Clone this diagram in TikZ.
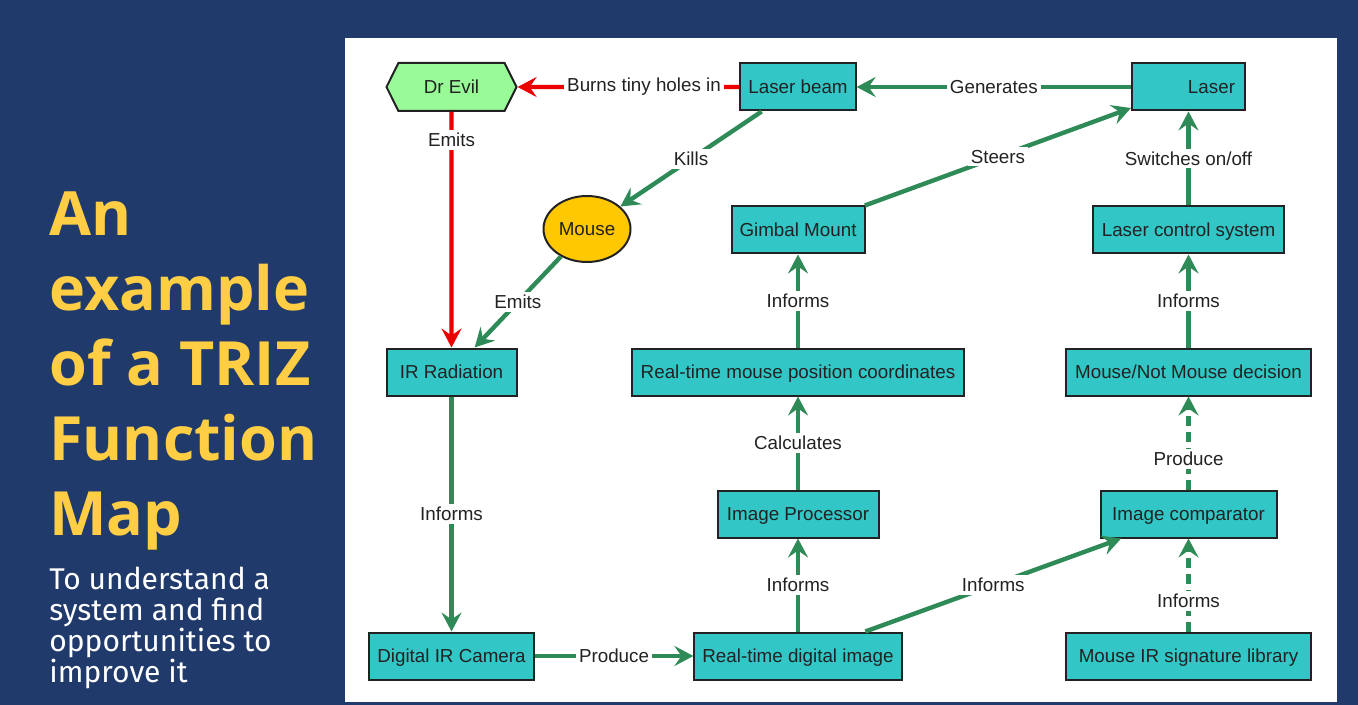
\documentclass[tikz,border=0pt]{standalone}
\usepackage{fontspec}
\setmainfont{Liberation Sans}
\newfontfamily\titlefont{Open Sans}
\newfontfamily\subfont{Fira Sans}
\usetikzlibrary{arrows.meta,shapes.geometric,shapes.symbols}
\definecolor{slide}{RGB}{31,58,107}
\definecolor{titleyellow}{RGB}{255,206,68}
\definecolor{boxteal}{RGB}{50,198,198}
\definecolor{linkgreen}{RGB}{46,139,87}
\definecolor{linkred}{RGB}{235,0,0}
\definecolor{evilgreen}{RGB}{152,251,152}
\definecolor{mousegold}{RGB}{255,200,0}
\definecolor{ink}{RGB}{34,34,34}

\begin{document}
	\begin{tikzpicture}[x=0.5pt, y=-0.5pt,
		font=\fontsize{9.4}{11}\selectfont,
		box/.style={draw=ink, line width=1pt, fill=boxteal, rectangle, minimum height=23.5pt, inner xsep=4pt, text height=8.8pt, text depth=2pt, text=ink},
		link/.style={draw=linkgreen, line width=2.2pt, -{Stealth[length=9.5pt, width=10pt, inset=3.5pt]}},
		redlink/.style={link, draw=linkred},
		dashlink/.style={link, dash pattern=on 5pt off 3pt},
		lbl/.style={fill=white, inner sep=1.5pt, text=ink}]
		\useasboundingbox (0,0) rectangle (1358,705);
		\fill[slide] (0,0) rectangle (1358,705);
		\fill[white] (345,38) rectangle (1337,702);
		
		\node[anchor=base west, align=left, inner sep=0pt, text=titleyellow, font=\titlefont\bfseries\fontsize{30.5}{37.5}\selectfont] (title) at (49,535) {An\\example\\of a TRIZ\\Function\\Map};
		\node[anchor=base west, align=left, inner sep=0pt, text=white, font=\subfont\fontsize{15}{15.5}\selectfont] (subtitle) at (49,682) {To understand a\\system and find\\opportunities to\\improve it};
		
		\node[signal, signal to=west and east, signal pointer angle=127, draw=ink, line width=1pt, fill=evilgreen, minimum width=65pt, minimum height=24pt, text height=8.8pt, text depth=2pt, text=ink] (1) at (451.5,87) {Dr Evil};
		\node[box, minimum width=57pt] (2) at (798,87) {Laser beam};
		\node[box, minimum width=56.5pt, text width=46.5pt, align=right] (3) at (1188.5,87) {Laser};
		\node[ellipse, draw=ink, line width=1pt, fill=mousegold, minimum width=43.5pt, minimum height=33pt, inner sep=0pt, text height=8.8pt, text depth=2pt, text=ink] (4) at (587,229) {Mouse};
		\node[box, minimum width=64pt] (5) at (798,230) {Gimbal Mount};
		\node[box, minimum width=95.5pt] (6) at (1188.5,230) {Laser control system};
		\node[box, minimum width=65pt] (7) at (451.5,372) {IR Radiation};
		\node[box, minimum width=166pt] (8) at (798,372) {Real-time mouse position coordinates};
		\node[box, minimum width=122.5pt] (9) at (1188.5,372) {Mouse/Not Mouse decision};
		\node[box, minimum width=80.5pt] (10) at (798,514) {Image Processor};
		\node[box, minimum width=88pt] (11) at (1188.5,514) {Image comparator};
		\node[box, minimum width=81pt] (12) at (451.5,656) {Digital IR Camera};
		\node[box, minimum width=103pt] (13) at (798,656) {Real-time digital image};
		\node[box, minimum width=122.5pt] (14) at (1188.5,656) {Mouse IR signature library};
		
		\draw[redlink] (2) -- node[lbl, pos=0.43] {Burns tiny holes in} (1);
		\draw[redlink] (1) -- node[lbl, pos=0.12] {Emits} (7);
		\draw[link] (2) -- node[lbl] {Kills} (4);
		\draw[link] (3) -- node[lbl] {Generates} (2);
		\draw[link] (5) -- node[lbl] {Steers} (3);
		\draw[link] (6) -- node[lbl] {Switches on/off} (3);
		\draw[link] (4) -- node[lbl] {Emits} (7);
		\draw[link] (7) -- node[lbl] {Informs} (12);
		\draw[link] (12) -- node[lbl] {Produce} (13);
		\draw[link] (13) -- node[lbl] {Informs} (10);
		\draw[link] (10) -- node[lbl] {Calculates} (8);
		\draw[link] (8) -- node[lbl] {Informs} (5);
		\draw[link] (13) -- node[lbl] {Informs} (11);
		\draw[dashlink] (14) -- node[lbl, pos=0.33] {Informs} (11);
		\draw[dashlink] (11) -- node[lbl, pos=0.33] {Produce} (9);
		\draw[link] (9) -- node[lbl] {Informs} (6);
		
	\end{tikzpicture}
\end{document}
